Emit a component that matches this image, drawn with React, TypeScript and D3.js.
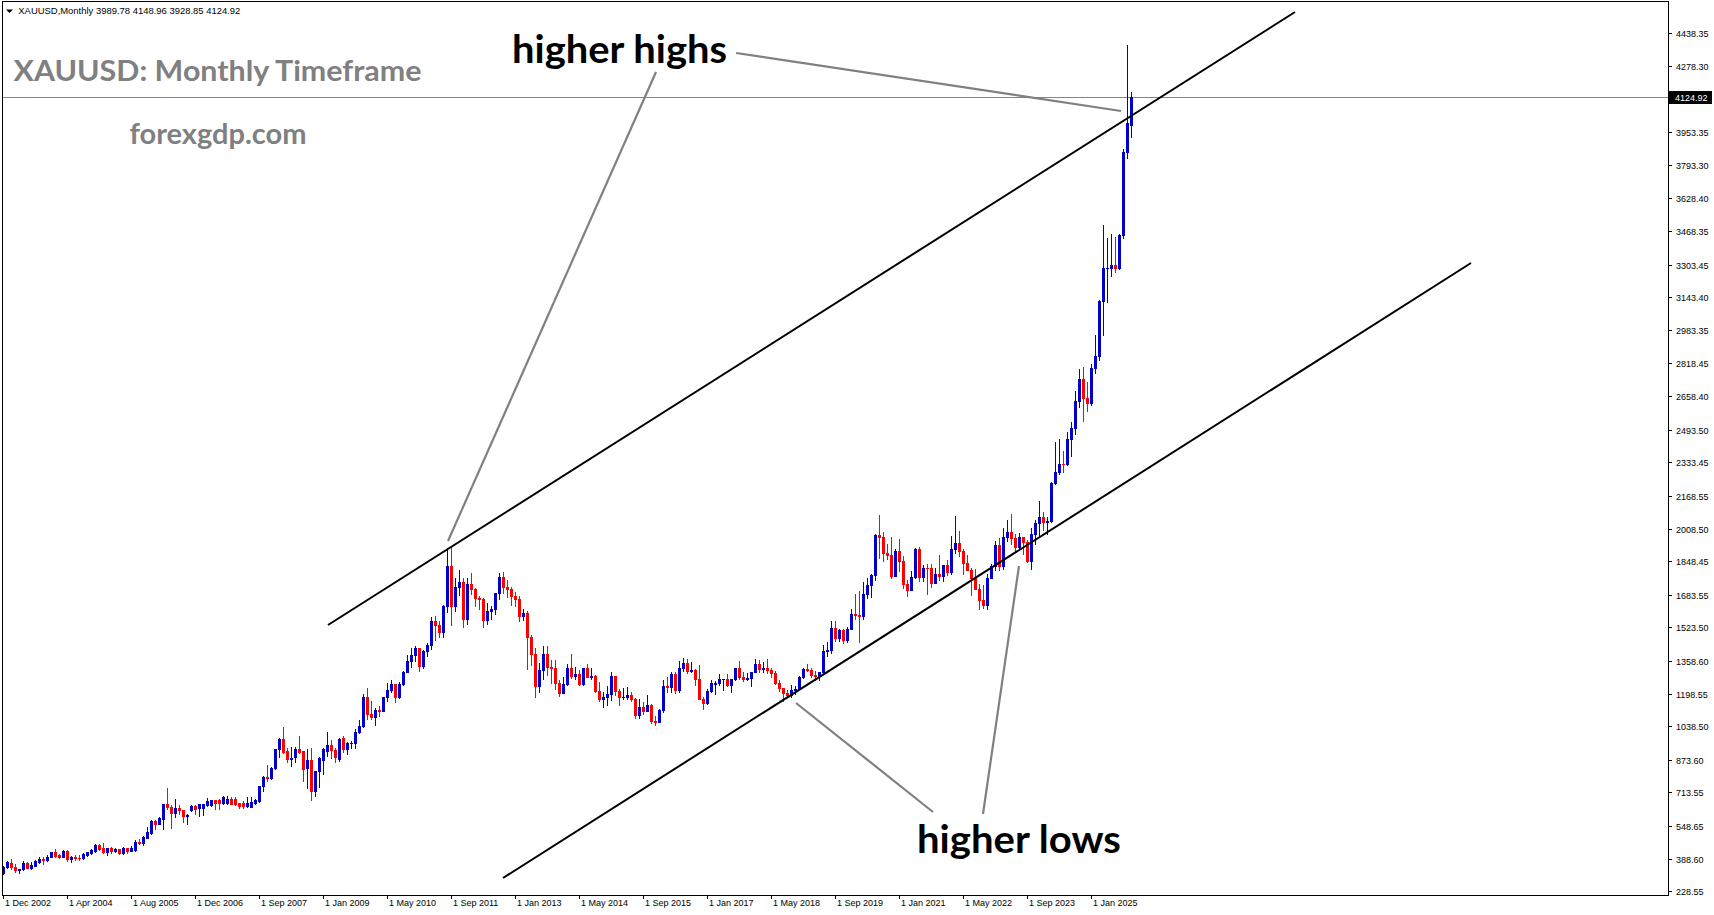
import React from "react";
import * as d3 from "d3";

type Bar = [number, number, number, number]; // open, high, low, close

// Dec 2002 – Dec 2006
const bars2002to2006: Bar[] = [
  [318,353,315,350],[348,377,345,371],[369,389,340,348],[348,361,322,332],[335,338,318,338],[338,376,335,366],
  [366,371,343,345],[341,371,337,356],[353,381,351,376],[371,396,368,386],[386,397,363,381],[382,407,377,398],
  [399,421,396,420],[420,435,397,402],[407,410,393,397],[397,432,395,428],[428,433,377,389],[386,400,373,397],
  [395,405,382,392],[393,406,383,391],[392,415,389,412],[407,423,404,420],[415,436,412,431],[426,459,423,456],
  [454,459,430,435],[440,464,418,422],[422,440,407,440],[440,448,418,425],[426,440,423,436],[435,438,412,415],
  [415,446,412,440],[440,443,417,425],[428,453,425,440],[432,479,428,469],[469,484,459,464],[467,502,456,494],
  [492,543,489,518],[517,577,512,572],[572,577,534,559],[561,593,557,587],[583,659,536,656],[656,734,634,641],
  [644,651,539,611],[613,680,593,636],[636,654,606,626],[626,629,569,597],[600,606,557,603],[626,652,621,649],
  [649,654,610,631],
];
// 2007 (broker history, before the Sep 2007 label)
const bars2007a: Bar[] = [
  [639,659,600,656],[639,659,602,655],[651,688,647,670],[651,678,647,675],[675,678,634,662],[675,679,634,662],
  [662,695,659,691],[662,695,659,683],[680,693,656,659],[680,693,652,655],[660,664,638,649],[660,673,639,646],
  [646,690,642,662],[644,690,641,665],[662,679,659,675],
];
// Sep 2007 – Dec 2008
const bars2007to2008: Bar[] = [
  [670,747,667,744],[744,795,721,788],[788,847,770,783],[783,837,780,832],
  [832,925,830,925],[925,983,888,975],[974,1035,906,913],[915,932,863,876],[880,935,843,885],[886,936,863,925],
  [925,989,907,911],[916,918,771,829],[832,925,734,871],[871,930,677,721],[721,820,696,819],[819,889,741,881],
];
const bars2009: Bar[] = [
  [875,931,802,928],[919,1009,890,945],[945,970,885,920],[920,933,863,888],[880,982,868,978],[979,990,912,926],
  [926,960,904,954],[954,965,931,955],[955,1025,932,1008],[1008,1070,1003,1040],[1040,1195,1033,1181],[1181,1227,1075,1097],
];
const bars2010: Bar[] = [
  [1097,1162,1072,1082],[1082,1127,1045,1118],[1118,1136,1088,1113],[1113,1180,1111,1180],[1180,1249,1164,1214],[1214,1265,1207,1244],
  [1244,1246,1155,1181],[1181,1254,1179,1248],[1248,1310,1241,1307],[1307,1388,1304,1358],[1358,1424,1330,1386],[1386,1431,1358,1421],
];
const bars2011: Bar[] = [
  [1421,1424,1308,1333],[1333,1412,1326,1409],[1409,1447,1381,1439],[1439,1575,1418,1556],[1556,1577,1462,1536],[1536,1556,1478,1500],
  [1500,1632,1478,1628],[1628,1912,1600,1826],[1826,1921,1535,1630],[1630,1764,1604,1722],[1722,1803,1682,1746],[1746,1764,1523,1564],
];
const bars2012: Bar[] = [
  [1564,1764,1540,1738],[1738,1791,1688,1710],[1710,1718,1627,1668],[1668,1676,1613,1664],[1664,1667,1527,1560],[1560,1641,1540,1604],
  [1604,1627,1564,1614],[1614,1692,1587,1690],[1690,1790,1664,1772],[1772,1796,1691,1720],[1720,1755,1672,1713],[1713,1723,1635,1675],
];
const bars2013: Bar[] = [
  [1675,1695,1626,1663],[1663,1679,1555,1578],[1578,1616,1562,1596],[1596,1605,1321,1476],[1476,1488,1338,1393],[1393,1424,1180,1234],
  [1234,1348,1208,1313],[1313,1434,1271,1395],[1395,1434,1292,1327],[1327,1362,1251,1323],[1323,1361,1221,1250],[1250,1267,1187,1202],
];
const bars2014: Bar[] = [
  [1202,1280,1202,1244],[1244,1345,1239,1326],[1326,1392,1277,1284],[1284,1331,1268,1296],[1296,1315,1240,1246],[1246,1325,1240,1322],
  [1322,1345,1281,1282],[1282,1322,1272,1287],[1287,1292,1207,1210],[1210,1255,1161,1171],[1171,1208,1132,1182],[1182,1238,1142,1199],
];
const bars2015: Bar[] = [
  [1199,1307,1167,1283],[1283,1284,1191,1212],[1212,1223,1142,1183],[1183,1224,1170,1184],[1184,1232,1170,1190],[1190,1205,1162,1172],
  [1172,1175,1077,1095],[1095,1170,1080,1133],[1133,1157,1098,1115],[1115,1191,1111,1142],[1142,1147,1052,1065],[1065,1088,1046,1061],
];
const bars2016: Bar[] = [
  [1061,1125,1061,1118],[1118,1263,1107,1238],[1238,1282,1208,1233],[1233,1304,1207,1293],[1293,1303,1200,1215],[1215,1358,1208,1322],
  [1322,1375,1310,1351],[1351,1367,1302,1309],[1309,1353,1304,1316],[1316,1317,1241,1272],[1272,1337,1171,1173],[1173,1180,1122,1151],
];
const bars2017: Bar[] = [
  [1151,1220,1146,1211],[1211,1264,1207,1249],[1248,1261,1195,1249],[1249,1296,1241,1268],[1268,1270,1214,1269],[1269,1296,1237,1242],
  [1242,1270,1205,1269],[1269,1326,1266,1322],[1322,1358,1271,1280],[1280,1306,1260,1271],[1271,1299,1264,1275],[1275,1306,1236,1303],
];
const bars2018: Bar[] = [
  [1303,1366,1303,1345],[1345,1361,1307,1318],[1318,1356,1303,1325],[1325,1366,1301,1316],[1316,1326,1282,1299],[1299,1309,1245,1252],
  [1252,1266,1211,1224],[1224,1224,1160,1202],[1202,1214,1180,1192],[1192,1243,1182,1215],[1215,1237,1196,1222],[1222,1284,1221,1282],
];
const bars2019: Bar[] = [
  [1282,1326,1276,1321],[1321,1346,1310,1313],[1313,1324,1281,1292],[1292,1310,1266,1283],[1283,1306,1267,1305],[1305,1439,1301,1409],
  [1409,1453,1382,1413],[1413,1555,1400,1520],[1520,1557,1459,1472],[1472,1517,1459,1513],[1513,1516,1445,1463],[1463,1525,1454,1517],
];
const bars2020: Bar[] = [
  [1517,1612,1517,1589],[1589,1689,1563,1585],[1585,1704,1451,1577],[1577,1748,1567,1686],[1686,1765,1670,1730],[1730,1785,1671,1781],
  [1781,1984,1757,1975],[1975,2075,1863,1968],[1968,1992,1848,1886],[1886,1933,1860,1879],[1879,1965,1764,1776],[1776,1906,1775,1898],
];
const bars2021: Bar[] = [
  [1898,1959,1802,1847],[1847,1872,1717,1734],[1734,1755,1677,1708],[1708,1798,1705,1769],[1769,1913,1766,1906],[1906,1916,1750,1770],
  [1770,1832,1751,1814],[1814,1834,1688,1813],[1813,1836,1721,1743],[1743,1814,1740,1783],[1783,1877,1758,1774],[1774,1831,1753,1829],
];
const bars2022: Bar[] = [
  [1829,1853,1780,1797],[1797,1974,1783,1909],[1909,2070,1890,1937],[1937,1998,1872,1897],[1897,1910,1787,1837],[1837,1879,1805,1807],
  [1807,1814,1681,1766],[1766,1808,1711,1711],[1711,1735,1615,1660],[1660,1730,1617,1633],[1633,1786,1616,1768],[1768,1833,1765,1824],
];
const bars2023: Bar[] = [
  [1824,1949,1804,1928],[1928,1960,1804,1826],[1826,2009,1810,1969],[1969,2048,1949,1990],[1990,2079,1932,1963],[1963,1983,1893,1919],
  [1919,1987,1903,1965],[1965,1966,1885,1940],[1940,1953,1846,1849],[1849,2009,1810,1983],[1983,2052,1931,2036],[2036,2146,1973,2063],
];
const bars2024: Bar[] = [
  [2063,2088,2001,2039],[2039,2065,1984,2044],[2044,2236,2039,2230],[2230,2431,2228,2286],[2286,2450,2277,2327],[2327,2387,2286,2326],
  [2326,2483,2318,2447],[2447,2531,2364,2503],[2503,2685,2471,2634],[2634,2790,2603,2744],[2744,2801,2536,2650],[2650,2726,2583,2624],
];
const bars2025: Bar[] = [
  [2624,2817,2614,2798],[2798,2956,2772,2857],[2857,3128,2833,3124],[3124,3500,2957,3288],[3288,3435,3121,3289],[3289,3452,3247,3303],
  [3303,3439,3268,3289],[3289,3452,3281,3447],[3447,3872,3436,3858],[3858,4381,3828,4000],[3989.78,4148.96,3928.85,4124.92],
];

const xTickLabels = [
  "1 Dec 2002","1 Apr 2004","1 Aug 2005","1 Dec 2006","1 Sep 2007","1 Jan 2009","1 May 2010","1 Sep 2011","1 Jan 2013",
  "1 May 2014","1 Sep 2015","1 Jan 2017","1 May 2018","1 Sep 2019","1 Jan 2021","1 May 2022","1 Sep 2023","1 Jan 2025",
];
const yTickValues = [
  4438.35,4278.30,3953.35,3793.30,3628.40,3468.35,3303.45,3143.40,2983.35,2818.45,2658.40,2493.50,2333.45,2168.55,
  2008.50,1848.45,1683.55,1523.50,1358.60,1198.55,1038.50,873.60,713.55,548.65,388.60,228.55,
];
const headerText = "XAUUSD,Monthly  3989.78 4148.96 3928.85 4124.92";
const lastPrice = 4124.92;

const allBars: Bar[] = [
  ...bars2002to2006, ...bars2007a, ...bars2007to2008, ...bars2009, ...bars2010, ...bars2011, ...bars2012,
  ...bars2013, ...bars2014, ...bars2015, ...bars2016, ...bars2017, ...bars2018, ...bars2019, ...bars2020,
  ...bars2021, ...bars2022, ...bars2023, ...bars2024, ...bars2025,
];

const W = 1714, H = 915;
const L = 2, T = 2, R = 1668, B = 895;
const BULL = "#0000cd", BEAR = "#ff0000";

export default function App() {
  const x = d3.scaleLinear().domain([0, 282]).range([3.3, 3.3 + 4 * 282]);
  const y = d3.scaleLinear().domain([228.55, 4438.35]).range([891.3, 33.3]);
  const ryr = (v: number) => Math.round(y(v));

  return (
    <svg width={W} height={H} style={{ position: "absolute", left: 0, top: 0, background: "#fff" }}
      fontFamily="'Liberation Sans', Arial, sans-serif">
      <rect x={0} y={0} width={W} height={H} fill="#fff" />
      <defs>
        <clipPath id="plot"><rect x={L} y={T} width={R - L} height={B - T} /></clipPath>
      </defs>
      {/* price line */}
      <line x1={L} x2={R} y1={ryr(lastPrice) + 0.5} y2={ryr(lastPrice) + 0.5} stroke="#778899" strokeWidth={1} />
      {/* candles */}
      <g clipPath="url(#plot)" shapeRendering="crispEdges">
        {allBars.map((b, i) => {
          const [o, h, l, c] = b;
          const cx = Math.round(x(i));
          const col = c >= o ? BULL : BEAR;
          const top = ryr(Math.max(o, c));
          const bot = ryr(Math.min(o, c));
          return (
            <g key={i} fill={col}>
              <rect x={cx} y={ryr(h)} width={1} height={Math.max(1, ryr(l) - ryr(h) + 1)} />
              <rect x={cx - 1} y={top} width={3} height={Math.max(1, bot - top + 1)} />
            </g>
          );
        })}
      </g>
      {/* channel lines */}
      <g stroke="#000" strokeWidth={2} clipPath="url(#plot)">
        <line x1={328} y1={625} x2={1295} y2={12} />
        <line x1={503} y1={878} x2={1471} y2={263} />
      </g>
      {/* grey pointers */}
      <g stroke="#808080" strokeWidth={2.2}>
        <line x1={736} y1={53} x2={1121} y2={111} />
        <line x1={656} y1={72} x2={448} y2={541} />
        <line x1={796} y1={703} x2={933} y2={812} />
        <line x1={1019} y1={566} x2={983} y2={814} />
      </g>
      {/* annotation texts */}
      <g fontFamily="Lato, 'Open Sans', sans-serif" fontWeight={700}>
        <text x={512} y={63} fontSize={39} fill="#000" textLength={215} lengthAdjust="spacingAndGlyphs">higher highs</text>
        <text x={917} y={853} fontSize={39} fill="#000" textLength={204} lengthAdjust="spacingAndGlyphs">higher lows</text>
        <text x={13.5} y={81} fontSize={28} fill="#808080" textLength={408} lengthAdjust="spacingAndGlyphs">XAUUSD: Monthly Timeframe</text>
        <text x={129.5} y={144} fontSize={29} fill="#808080" textLength={177} lengthAdjust="spacingAndGlyphs">forexgdp.com</text>
      </g>
      {/* header */}
      <polygon points="6,9.5 13,9.5 9.5,13" fill="#000" />
      <text x={18.3} y={14} fontSize={9.5} fill="#000" textLength={222} lengthAdjust="spacingAndGlyphs">{headerText}</text>
      {/* frame */}
      <rect x={L + 0.5} y={T - 0.5} width={R - L} height={B - T + 1} fill="none" stroke="#000" strokeWidth={1} shapeRendering="crispEdges" />
      {/* y axis */}
      <g fontSize={9} fill="#000">
        {yTickValues.map((v) => (
          <g key={v}>
            <line x1={R} x2={R + 4} y1={ryr(v) + 0.5} y2={ryr(v) + 0.5} stroke="#000" shapeRendering="crispEdges" />
            <text x={R + 8} y={ryr(v) + 3.5}>{v.toFixed(2)}</text>
          </g>
        ))}
        <rect x={R + 1} y={ryr(lastPrice) - 6} width={43} height={13} fill="#000" />
        <text x={R + 7} y={ryr(lastPrice) + 4} fill="#fff">{lastPrice.toFixed(2)}</text>
      </g>
      {/* x axis */}
      <g fontSize={9} fill="#000">
        {xTickLabels.map((t, k) => {
          const tx = Math.round(x(k * 16));
          return (
            <g key={t}>
              <line x1={tx + 0.5} x2={tx + 0.5} y1={B} y2={B + 4} stroke="#000" shapeRendering="crispEdges" />
              <text x={tx + 2} y={906}>{t}</text>
            </g>
          );
        })}
      </g>
    </svg>
  );
}
